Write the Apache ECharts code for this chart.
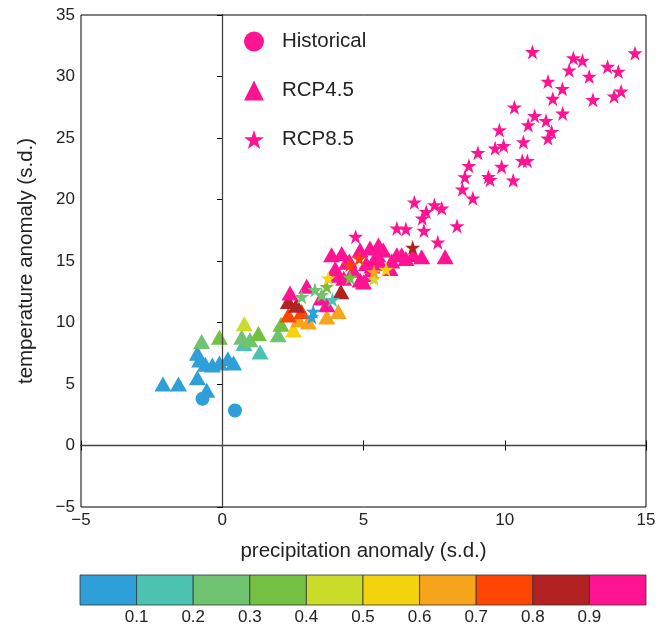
<!DOCTYPE html>
<html>
<head>
<meta charset="utf-8">
<script src="https://cdn.jsdelivr.net/npm/echarts@6/dist/echarts.min.js"></script>
<style>
  html, body { margin: 0; padding: 0; background: #fff; }
  #chart { width: 669px; height: 628px; }
</style>
</head>
<body>
<div id="chart"></div>
<script>
// colour classes 0..9, colorbar ticks
var palette = ['#2e9fd9', '#4cc3b1', '#70c370', '#73c043', '#cbdb2a',
               '#f3d30d', '#f8a51e', '#fe4503', '#b22222', '#fe1493'];
var barTicks = [0.1, 0.2, 0.3, 0.4, 0.5, 0.6, 0.7, 0.8, 0.9];

// [precip anomaly, temp anomaly, colour class]
var historical = [[-0.7, 3.8, 0], [0.45, 2.85, 0]];

var rcp45 = [
  [-2.1, 5.0, 0], [-1.55, 5.0, 0], [-0.88, 5.5, 0], [-0.55, 4.5, 0], [-0.88, 7.5, 0],
  [-0.8, 6.95, 0], [-0.6, 6.6, 0], [-0.35, 6.55, 0], [-0.1, 6.7, 0], [0.2, 7.05, 0], [0.4, 6.7, 0],
  [0.77, 8.3, 1], [1.34, 7.6, 1],
  [-0.73, 8.45, 2], [0.69, 8.8, 2], [0.98, 8.6, 2], [1.98, 9.0, 2],
  [-0.1, 8.8, 3], [1.28, 9.1, 3], [2.08, 9.85, 3],
  [0.78, 9.9, 4],
  [2.52, 9.4, 5],
  [2.7, 10.2, 6], [3.05, 10.05, 6], [3.7, 10.45, 6], [4.11, 10.9, 6],
  [2.34, 10.6, 7], [2.81, 10.9, 7],
  [2.34, 11.7, 8], [2.63, 11.4, 8], [4.2, 12.5, 8],
  [2.4, 12.4, 9], [2.99, 12.95, 9], [3.7, 11.45, 9], [3.5, 12.0, 9], [3.87, 15.5, 9],
  [4.23, 15.6, 9], [4.05, 13.85, 9], [4.64, 14.25, 9], [5.0, 13.3, 9], [4.88, 13.45, 9],
  [4.88, 15.9, 9], [5.23, 16.05, 9], [5.53, 16.3, 9], [5.7, 15.9, 9], [5.94, 14.4, 9],
  [6.18, 15.5, 9], [6.35, 15.5, 9], [6.76, 15.5, 9], [7.06, 15.35, 9], [7.89, 15.35, 9],
  [5.4, 15.2, 9], [5.1, 14.8, 9], [4.4, 14.9, 9], [4.3, 13.6, 9], [4.5, 15.0, 9],
  [5.3, 14.6, 9], [5.6, 14.8, 9], [6.0, 15.0, 9], [5.2, 13.9, 9], [5.5, 15.5, 9],
  [6.5, 15.2, 9], [4.0, 14.4, 9]
];

var rcp85 = [
  [3.22, 10.9, 0], [3.17, 10.45, 0], [3.9, 11.85, 1],
  [2.81, 12.1, 2], [3.28, 12.65, 2], [3.52, 12.25, 2],
  [3.7, 12.9, 3], [4.52, 13.65, 3], [5.37, 13.55, 4],
  [3.75, 13.6, 5], [5.8, 14.3, 5], [5.37, 14.1, 6],
  [4.52, 14.7, 7], [4.85, 15.2, 7], [6.74, 16.1, 8],
  [10.98, 32.0, 9], [12.43, 31.5, 9], [12.75, 31.3, 9], [12.28, 30.5, 9], [12.99, 30.0, 9],
  [13.64, 30.8, 9], [14.02, 30.4, 9], [14.61, 31.9, 9], [14.12, 28.8, 9], [13.87, 28.4, 9],
  [13.12, 28.1, 9], [11.53, 29.6, 9], [12.04, 29.0, 9], [11.7, 28.2, 9], [12.05, 27.0, 9],
  [10.34, 27.5, 9], [11.06, 26.8, 9], [10.83, 26.06, 9], [11.46, 26.4, 9], [11.66, 25.5, 9],
  [11.53, 24.97, 9], [10.66, 24.67, 9], [9.81, 25.65, 9], [9.96, 24.37, 9], [9.66, 24.16, 9],
  [10.62, 23.15, 9], [10.8, 23.15, 9], [9.05, 23.8, 9], [9.89, 22.67, 9], [8.73, 22.75, 9],
  [8.59, 21.83, 9], [9.42, 21.85, 9], [9.48, 21.6, 9], [10.3, 21.56, 9], [8.5, 20.83, 9],
  [8.87, 20.1, 9], [6.8, 19.77, 9], [7.51, 19.55, 9], [7.22, 19.0, 9], [7.77, 19.28, 9],
  [7.08, 18.47, 9], [6.5, 17.6, 9], [6.18, 17.66, 9], [7.14, 17.47, 9], [8.31, 17.85, 9],
  [7.63, 16.52, 9], [4.72, 16.98, 9]
];

var star = 'path://M50,0 L61.8,35.3 L98.9,35.3 L68.9,57.3 L80.4,92.7 L50,70.9 L19.6,92.7 L31.1,57.3 L1.1,35.3 L38.2,35.3 Z';
var font = 'Liberation Sans, Arial, Helvetica, sans-serif';

// colorbar cells [start, end, class]
var barCells = palette.map(function (c, i) { return [i / 10, (i + 1) / 10, i]; });

var chart = echarts.init(document.getElementById('chart'));

function pointColor(p) { return palette[p.value[2]]; }
function minus(v) { return v < 0 ? '\u2212' + Math.abs(v) : v; }

chart.setOption({
  animation: false,
  textStyle: { fontFamily: font },
  legend: {
    orient: 'vertical',
    left: 239,
    top: 26,
    itemWidth: 20,
    itemHeight: 20,
    itemGap: 28,
    textStyle: { fontSize: 20.5, color: '#222', fontFamily: font, padding: [0, 0, 0, 13] },
    data: [
      { name: 'Historical', icon: 'circle', itemStyle: { color: '#fe1493' } },
      { name: 'RCP4.5', icon: 'triangle', itemStyle: { color: '#fe1493' } },
      { name: 'RCP8.5', icon: star, itemStyle: { color: '#fe1493' } }
    ]
  },
  grid: [
    { left: 81, right: 23, top: 15, bottom: 121, show: true, borderColor: '#000', borderWidth: 1 },
    { left: 80, right: 23, top: 575, height: 30 }
  ],
  xAxis: [
    {
      gridIndex: 0, type: 'value', min: -5, max: 15, interval: 5,
      name: 'precipitation anomaly (s.d.)', nameLocation: 'middle', nameGap: 34,
      nameTextStyle: { fontSize: 20.5, color: '#222' },
      axisLine: { lineStyle: { color: '#000' } },
      axisTick: { inside: true, length: 5, lineStyle: { color: '#000' } },
      axisLabel: { fontSize: 17, color: '#222', margin: 5, formatter: minus },
      splitLine: { show: false }
    },
    {
      gridIndex: 0, type: 'value', position: 'top', min: -5, max: 15, interval: 5,
      axisLine: { lineStyle: { color: '#000' } },
      axisTick: { inside: true, length: 5, lineStyle: { color: '#000' } },
      axisLabel: { show: false }, splitLine: { show: false }
    },
    {
      gridIndex: 1, type: 'value', min: 0, max: 1, interval: 0.1,
      axisLine: { show: false }, axisTick: { show: false }, splitLine: { show: false },
      axisLabel: {
        fontSize: 17, color: '#222', margin: 4,
        formatter: function (v) {
          var t = Math.round(v * 10) / 10;
          return barTicks.indexOf(t) >= 0 ? t.toFixed(1) : '';
        }
      }
    }
  ],
  yAxis: [
    {
      gridIndex: 0, type: 'value', min: -5, max: 35, interval: 5,
      name: 'temperature anomaly (s.d.)', nameLocation: 'middle', nameGap: 44,
      nameTextStyle: { fontSize: 20.5, color: '#222' },
      axisLine: { lineStyle: { color: '#000' } },
      axisTick: { length: 5, lineStyle: { color: '#000' } },
      axisLabel: { fontSize: 17, color: '#222', margin: 6, formatter: minus },
      splitLine: { show: false }
    },
    {
      gridIndex: 0, type: 'value', position: 'right', min: -5, max: 35, interval: 5,
      axisLine: { lineStyle: { color: '#000' } },
      axisTick: { inside: true, length: 5, lineStyle: { color: '#000' } },
      axisLabel: { show: false }, splitLine: { show: false }
    },
    {
      gridIndex: 1, type: 'value', min: 0, max: 1,
      axisLine: { show: false }, axisTick: { show: false },
      axisLabel: { show: false }, splitLine: { show: false }
    }
  ],
  series: [
    {
      name: 'RCP4.5', type: 'scatter', xAxisIndex: 0, yAxisIndex: 0,
      symbol: 'triangle', symbolSize: [17, 15], z: 2,
      itemStyle: { color: pointColor, opacity: 1 },
      data: rcp45,
      markLine: {
        silent: true, symbol: 'none', label: { show: false },
        lineStyle: { color: '#444', width: 1.3, type: 'solid' },
        data: [{ xAxis: 0 }, { yAxis: 0 }]
      }
    },
    {
      name: 'RCP8.5', type: 'scatter', xAxisIndex: 0, yAxisIndex: 0,
      symbol: star, symbolSize: 15, z: 3,
      itemStyle: { color: pointColor, opacity: 1 },
      data: rcp85
    },
    {
      name: 'Historical', type: 'scatter', xAxisIndex: 0, yAxisIndex: 0,
      symbol: 'circle', symbolSize: 14, z: 4,
      itemStyle: { color: pointColor, opacity: 1 },
      data: historical
    },
    {
      type: 'custom', xAxisIndex: 2, yAxisIndex: 2,
      data: barCells,
      renderItem: function (params, api) {
        var p0 = api.coord([api.value(0), 1]);
        var p1 = api.coord([api.value(1), 0]);
        return {
          type: 'rect',
          shape: { x: p0[0], y: p0[1], width: p1[0] - p0[0], height: p1[1] - p0[1] },
          style: { fill: palette[api.value(2)], stroke: '#333', lineWidth: 0.8 }
        };
      }
    }
  ]
});
</script>
</body>
</html>
